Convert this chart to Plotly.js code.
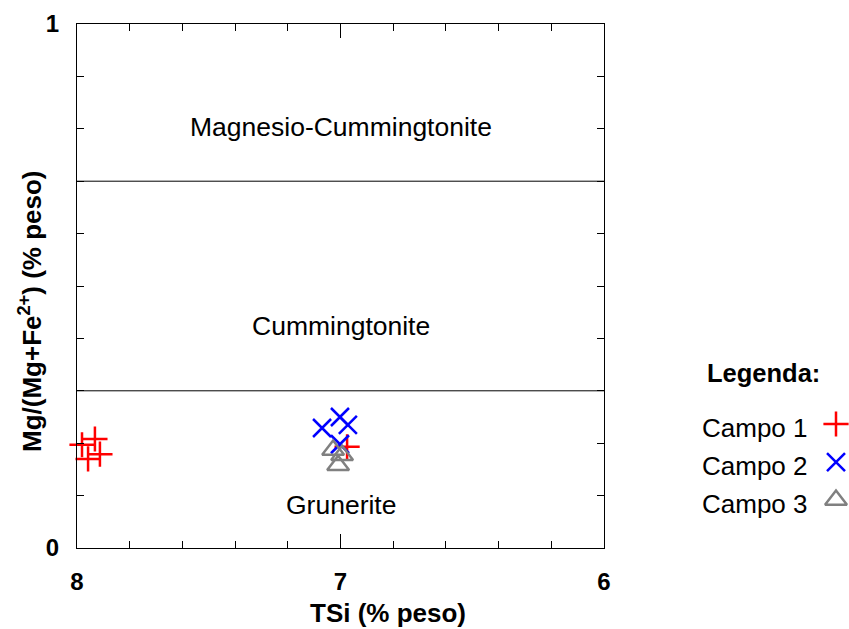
<!DOCTYPE html>
<html>
<head>
<meta charset="utf-8">
<script src="https://cdn.plot.ly/plotly-3.0.1.min.js"></script>
<style>html,body{margin:0;padding:0;background:#fff;}#chart{width:849px;height:629px;}</style>
</head>
<body>
<div id="chart"></div>
<script>
// Data
const campo1_x = [7.981, 7.932, 7.958, 7.913, 6.975];
const campo1_y = [0.197, 0.208, 0.170, 0.179, 0.193];
const campo2_x = [7.070, 7.002, 6.972, 7.002];
const campo2_y = [0.229, 0.250, 0.235, 0.198];
const campo3_x = [7.028, 6.994, 7.009];
const campo3_y = [0.187, 0.177, 0.158];

const seriesNames = ["Campo 1", "Campo 2", "Campo 3"];
const seriesColors = ["#ff0000", "#0000ff", "#808080"];
const seriesSymbols = ["cross-thin-open", "x-thin-open", "triangle-up-open"];
const seriesSizes = [18, 18, 19];

const boundaries = [0.3, 0.7];
const fieldLabels = ["Grunerite", "Cummingtonite", "Magnesio-Cummingtonite"];
const fieldLabelY = [0.082, 0.424, 0.803];

const xTickVals = [8, 7, 6];
const xTickText = ["8", "7", "6"];
const yTickVals = [0, 1];
const yTickText = ["0", "1"];

const legendY = [0.2366, 0.164, 0.0916];

const W = 849, L = 77, R = 0, PR = 604, T = 24, B = 548;
const plotW = W - L - R;
const plotH = B - T;
const px = p => (p - L) / plotW;
const py = p => (B - p) / plotH;

const font = "Liberation Sans, Arial, sans-serif";

const xs = [campo1_x, campo2_x, campo3_x];
const ys = [campo1_y, campo2_y, campo3_y];

const traces = [];
for (let i = 0; i < 3; i++) {
  const mk = {symbol: seriesSymbols[i], size: seriesSizes[i], color: seriesColors[i],
              line: {color: seriesColors[i], width: 2.5}};
  traces.push({
    type: "scatter", mode: "markers", x: xs[i], y: ys[i], name: seriesNames[i],
    xaxis: "x", yaxis: "y", showlegend: false, cliponaxis: false, marker: mk
  });
  traces.push({
    type: "scatter", mode: "markers", x: [0.5], y: [legendY[i]],
    xaxis: "x2", yaxis: "y", showlegend: false, cliponaxis: false, hoverinfo: "skip", marker: mk
  });
}

const shapes = boundaries.map(b => ({
  type: "line", xref: "x", yref: "y", x0: 8, x1: 6, y0: b, y1: b,
  line: {color: "#000", width: 1}
}));

const annotations = fieldLabels.map((t, i) => ({
  text: t, x: 7, y: fieldLabelY[i], xref: "x", yref: "y", showarrow: false,
  font: {family: font, size: 26.5, color: "#000"}
}));
annotations.push({
  text: "<b>Legenda:</b>", xref: "paper", yref: "paper", x: px(763), y: py(373),
  showarrow: false, xanchor: "center", yanchor: "middle", font: {family: font, size: 25.5, color: "#000"}
});
seriesNames.forEach((n, i) => annotations.push({
  text: n, xref: "paper", yref: "y", x: px(810), y: legendY[i] - 0.008,
  showarrow: false, xanchor: "right", font: {family: font, size: 26, color: "#000"}
}));
annotations.push({
  text: "<b>TSi (% peso)</b>", xref: "paper", yref: "paper", x: px(388), y: py(613),
  showarrow: false, xanchor: "center", yanchor: "middle", font: {family: font, size: 26, color: "#000"}
});
annotations.push({
  text: "<b>Mg/(Mg+Fe<sup>2+</sup>) (% peso)</b>", xref: "paper", yref: "paper", x: px(30), y: py(312),
  showarrow: false, xanchor: "center", yanchor: "middle", textangle: -90,
  font: {family: font, size: 26, color: "#000"}
});

const layout = {
  width: 849, height: 629,
  margin: {l: L, r: R, t: T, b: 629 - B},
  paper_bgcolor: "#fff", plot_bgcolor: "#fff",
  showlegend: false,
  xaxis: {
    domain: [0, (PR - L) / plotW], range: [8, 6], autorange: false,
    showgrid: false, zeroline: false, showline: true, linecolor: "#000", linewidth: 1,
    mirror: "ticks", ticks: "inside", ticklen: 14, tickcolor: "#000",
    tickvals: xTickVals, ticktext: xTickText, ticklabelstandoff: 12,
    minor: {dtick: 0.2, tick0: 6, ticks: "inside", ticklen: 7, tickcolor: "#000", showgrid: false},
    tickfont: {family: font, size: 24, color: "#000", weight: "bold"}
  },
  xaxis2: {
    domain: [px(826), px(846)], range: [0, 1], visible: false, anchor: "y"
  },
  yaxis: {
    range: [0, 1], autorange: false,
    showgrid: false, zeroline: false, showline: true, linecolor: "#000", linewidth: 1,
    mirror: "ticks", ticks: "inside", ticklen: 7, tickcolor: "#000",
    tickvals: yTickVals, ticktext: yTickText, ticklabelstandoff: 12,
    minor: {dtick: 0.1, tick0: 0, ticks: "inside", ticklen: 7, tickcolor: "#000", showgrid: false},
    tickfont: {family: font, size: 24, color: "#000", weight: "bold"}
  },
  shapes: shapes,
  annotations: annotations
};

Plotly.newPlot("chart", traces, layout, {displayModeBar: false, staticPlot: true});
</script>
</body>
</html>
